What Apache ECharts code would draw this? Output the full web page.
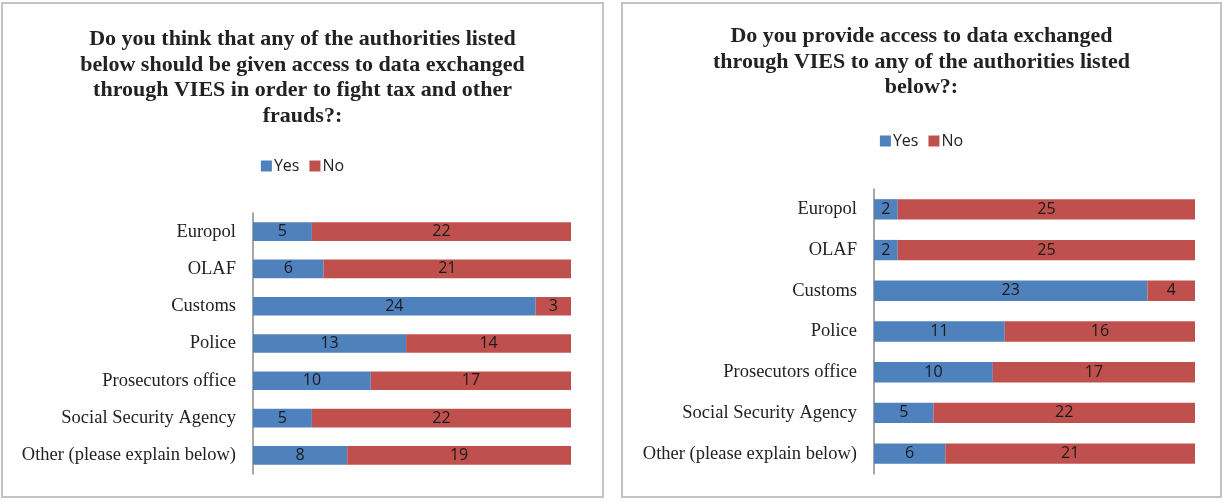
<!DOCTYPE html>
<html>
<head>
<meta charset="utf-8">
<script src="https://cdn.jsdelivr.net/npm/echarts@6/dist/echarts.min.js"></script>
<style>
body { margin: 0; background: #fff; }
.box { position: absolute; top: 2px; height: 496px; border: 2px solid #c4c4c4; box-sizing: border-box; }
</style>
</head>
<body>
<div id="left" class="box" style="left:1px; width:603px;"></div>
<div id="right" class="box" style="left:621px; width:601px;"></div>
<script>
var categories = ['Europol', 'OLAF', 'Customs', 'Police', 'Prosecutors office', 'Social Security Agency', 'Other (please explain below)'];
// left chart: should be given access
var yesLeft = [5, 6, 24, 13, 10, 5, 8];
var noLeft = [22, 21, 3, 14, 17, 22, 19];
// right chart: access provided
var yesRight = [2, 2, 23, 11, 10, 5, 6];
var noRight = [25, 25, 4, 16, 17, 22, 21];

var titleLeft = 'Do you think that any of the authorities listed\nbelow should be given access to data exchanged\nthrough VIES in order to fight tax and other\nfrauds?:';
var titleRight = 'Do you provide access to data exchanged\nthrough VIES to any of the authorities listed\nbelow?:';

function makeOption(title, titleTop, legendTop, grid, yes, no) {
    var lbl = {
        show: true,
        position: 'inside',
        color: '#1a1a1a',
        fontFamily: 'Open Sans',
        fontSize: 16
    };
    return {
        animation: false,
        title: {
            text: title,
            left: 'center',
            top: titleTop,
            textStyle: {
                fontFamily: 'Liberation Serif',
                fontWeight: 'bold',
                fontSize: 22,
                lineHeight: 25.5,
                color: '#222',
                align: 'center'
            }
        },
        legend: {
            data: ['Yes', 'No'],
            top: legendTop,
            left: 'center',
            icon: 'rect',
            itemWidth: 11,
            itemHeight: 11,
            itemGap: 10,
            textStyle: { fontFamily: 'Open Sans', fontSize: 16, color: '#222', padding: [0, 0, 0, -3] }
        },
        grid: grid,
        xAxis: {
            type: 'value',
            min: 0,
            max: 27,
            show: false
        },
        yAxis: {
            type: 'category',
            inverse: true,
            data: categories,
            axisLine: { lineStyle: { color: '#8a8a8a', width: 1.5 } },
            axisTick: { show: false },
            axisLabel: {
                margin: 17,
                fontFamily: 'Liberation Serif',
                fontSize: 18.5,
                color: '#222'
            }
        },
        series: [
            {
                name: 'Yes',
                type: 'bar',
                stack: 'all',
                barWidth: '50%',
                data: yes,
                itemStyle: { color: '#4f81bd' },
                label: lbl
            },
            {
                name: 'No',
                type: 'bar',
                stack: 'all',
                data: no,
                itemStyle: { color: '#c0504d' },
                label: lbl
            }
        ]
    };
}

var leftChart = echarts.init(document.getElementById('left'));
leftChart.setOption(makeOption(titleLeft, 18, 149,
    { left: 250, right: 31, top: 209, bottom: 22 }, yesLeft, noLeft));

var rightChart = echarts.init(document.getElementById('right'));
rightChart.setOption(makeOption(titleRight, 15, 124,
    { left: 251, right: 25, top: 185, bottom: 22 }, yesRight, noRight));
</script>
</body>
</html>
